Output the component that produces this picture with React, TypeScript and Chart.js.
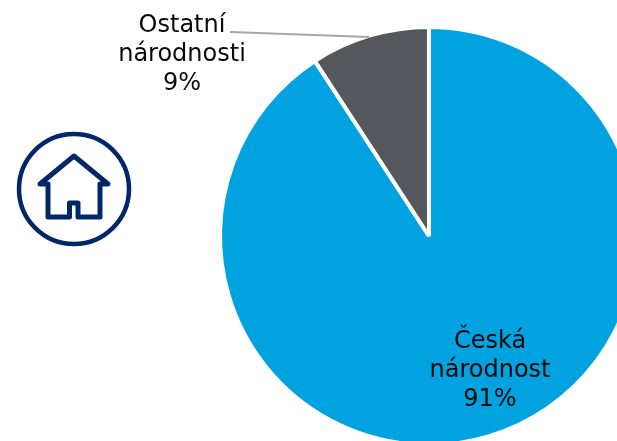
import React, { useEffect, useRef } from "react";
import { Chart, registerables } from "chart.js";

Chart.register(...registerables);

const categories = ["Česká národnost", "Ostatní národnosti"];
const values = [90.8, 9.2];
const sliceColors = ["#00A3E0", "#54575C"];
const labelLines = [
  ["Česká", "národnost", "91%"],
  ["Ostatní", "národnosti", "9%"],
];

const labelPlugin = {
  id: "sliceLabels",
  afterDraw(chart: any) {
    const c = chart.ctx;
    const arc = chart.getDatasetMeta(0).data[1];
    const cx = arc.x;
    const cy = arc.y;
    c.save();
    c.strokeStyle = "#A6A6A6";
    c.lineWidth = 2;
    c.beginPath();
    c.moveTo(cx - 199, cy - 204);
    c.lineTo(cx - 60, cy - 199);
    c.stroke();
    c.fillStyle = "#0A0A0A";
    c.font = '24px "DejaVu Sans"';
    c.textAlign = "center";
    c.textBaseline = "alphabetic";
    labelLines[0].forEach((t, i) => c.fillText(t, cx + 61, cy + 112 + i * 29));
    labelLines[1].forEach((t, i) => c.fillText(t, cx - 247, cy - 204 + i * 29));
    c.restore();
  },
};

export default function App() {
  const ref = useRef<HTMLCanvasElement>(null);
  useEffect(() => {
    const chart = new Chart(ref.current!, {
      type: "pie",
      data: {
        labels: categories,
        datasets: [
          {
            data: values,
            backgroundColor: sliceColors,
            borderColor: "#FFFFFF",
            borderWidth: 4,
            radius: 209,
          },
        ],
      },
      options: {
        animation: false,
        responsive: false,
        events: [],
        plugins: { legend: { display: false }, tooltip: { enabled: false } },
      },
      plugins: [labelPlugin],
    });
    return () => chart.destroy();
  }, []);
  return (
    <div
      style={{
        position: "fixed",
        left: 0,
        top: 0,
        width: 617,
        height: 441,
        overflow: "hidden",
        background: "#fff",
      }}
    >
      <canvas ref={ref} width={858} height={472} style={{ display: "block" }} />
      <svg
        width={150}
        height={150}
        viewBox="0 0 150 150"
        style={{ position: "absolute", left: 0, top: 110 }}
        fill="none"
        stroke="#002868"
      >
        <circle cx={74} cy={79} r={55} strokeWidth={4.5} />
        <path
          d="M40 74 L74 46 L108 74 L100 74 L100 107 L78 107 L78 93 L69.5 93 L69.5 107 L48 107 L48 74 Z"
          strokeWidth={5}
          strokeLinejoin="round"
        />
      </svg>
    </div>
  );
}
